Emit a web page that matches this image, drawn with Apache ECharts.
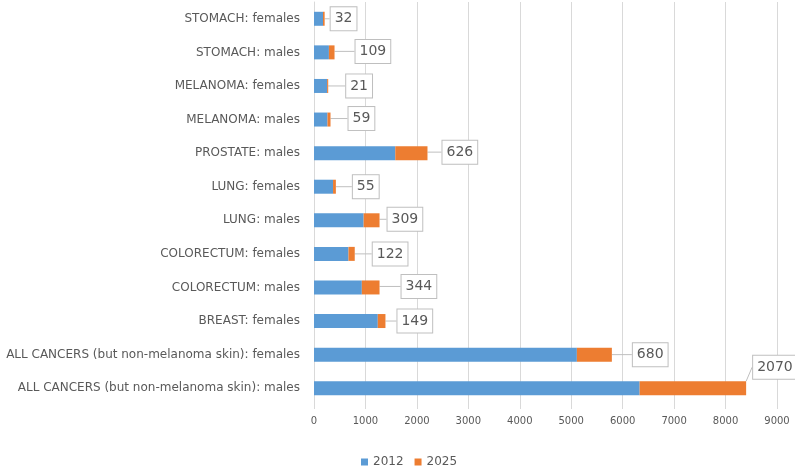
<!DOCTYPE html>
<html>
<head>
<meta charset="utf-8">
<script src="https://cdn.jsdelivr.net/npm/echarts@6/dist/echarts.min.js"></script>
<style>html,body{margin:0;padding:0;background:#fff}#c{width:795px;height:468px}</style>
</head>
<body>
<div id="c"></div>
<script>
const categories = [
  "STOMACH: females", "STOMACH: males", "MELANOMA: females", "MELANOMA: males",
  "PROSTATE: males", "LUNG: females", "LUNG: males", "COLORECTUM: females",
  "COLORECTUM: males", "BREAST: females",
  "ALL CANCERS (but non-melanoma skin): females", "ALL CANCERS (but non-melanoma skin): males"
];
const values2012 = [175, 290, 255, 262, 1580, 370, 965, 670, 930, 1240, 5110, 6330];
const increase2025 = [32, 109, 21, 59, 626, 55, 309, 122, 344, 149, 680, 2070];
const xTicks = { min: 0, max: 9000, interval: 1000 };

// label callout offsets (style only)
const labelDx = [4, 19, 16, 16, 13, 15, 6, 16, 20, 10, 19, 5];
const labelDy = [0, -1, 0, -1, -1, 0, -1, 0, -1, 0, 0, -21];

const chart = echarts.init(document.getElementById('c'));
const font = 'DejaVu Sans';
chart.setOption({
  animation: false,
  textStyle: { fontFamily: font },
  grid: { left: 314, right: 18, top: 2, bottom: 63 },
  xAxis: {
    type: 'value', min: xTicks.min, max: xTicks.max, interval: xTicks.interval,
    axisLine: { show: false },
    axisTick: { show: true, length: 4, lineStyle: { color: '#d9d9d9' } },
    splitLine: { lineStyle: { color: '#d9d9d9' } },
    axisLabel: { color: '#595959', fontSize: 10, margin: 11, fontFamily: font,
      formatter: function (v) { return String(v); } }
  },
  yAxis: {
    type: 'category', data: categories, inverse: true,
    axisLine: { show: true, lineStyle: { color: '#d9d9d9' } },
    axisTick: { show: false },
    axisLabel: { color: '#595959', fontSize: 12, margin: 14, fontFamily: font }
  },
  legend: {
    data: ['2012', '2025'], left: 356, top: 451, itemWidth: 7, itemHeight: 7, itemGap: 11,
    icon: 'rect', textStyle: { color: '#595959', fontSize: 12, fontFamily: font }
  },
  series: [
    { name: '2012', type: 'bar', stack: 't', data: values2012, barWidth: 14,
      itemStyle: { color: '#5B9BD5' } },
    { name: '2025', type: 'bar', stack: 't', data: increase2025, barWidth: 14,
      itemStyle: { color: '#ED7D31' },
      label: {
        show: true, position: 'right', distance: 2, color: '#595959', fontSize: 14,
        fontFamily: font, backgroundColor: '#fff', borderColor: '#bfbfbf', borderWidth: 1,
        padding: [5, 4, 4, 4]
      },
      labelLine: { show: true, lineStyle: { color: '#bfbfbf', width: 1 } },
      labelLayout: function (p) {
        return { dx: labelDx[p.dataIndex], dy: labelDy[p.dataIndex] };
      }
    }
  ]
});
</script>
</body>
</html>
